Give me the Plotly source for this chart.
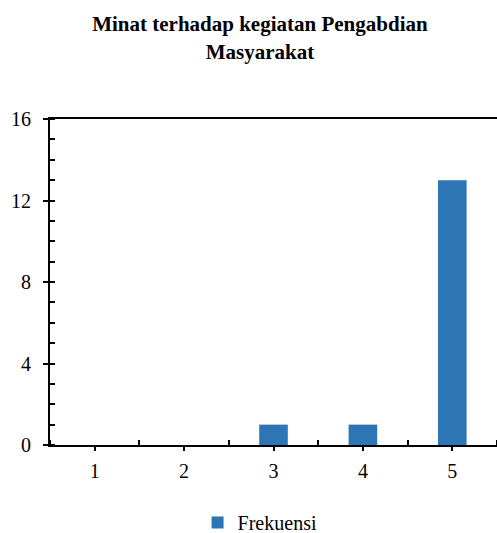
import plotly.graph_objects as go

# Data
categories = [1, 2, 3, 4, 5]
category_labels = ["1", "2", "3", "4", "5"]
frekuensi = [0, 0, 1, 1, 13]
y_ticks = [0, 4, 8, 12, 16]

BAR_COLOR = "#2E75B6"
FONT = "Liberation Serif"

fig = go.Figure()

fig.add_trace(
    go.Bar(
        x=categories,
        y=frekuensi,
        name="Frekuensi",
        marker=dict(color=BAR_COLOR, line=dict(width=0)),
        width=0.32,
        showlegend=True,
    )
)

fig.update_layout(
    width=497,
    height=533,
    margin=dict(l=50, r=0, t=119, b=88, autoexpand=False),
    paper_bgcolor="white",
    plot_bgcolor="white",
    font=dict(family=FONT, color="black"),
    title=dict(
        text="<b>Minat terhadap kegiatan Pengabdian<br>Masyarakat</b>",
        x=0.523,
        xanchor="center",
        y=0.941,
        yanchor="middle",
        font=dict(size=21, family=FONT, color="black"),
    ),
    showlegend=True,
    legend=dict(
        orientation="h",
        x=0.47,
        xanchor="center",
        y=-0.238,
        yanchor="middle",
        font=dict(size=20, family=FONT),
        itemwidth=30,
    ),
    xaxis=dict(
        range=[0.5, 5.5],
        automargin=False,
        tickmode="array",
        tickvals=categories,
        ticktext=category_labels,
        ticks="outside",
        ticklen=4,
        tickwidth=1.5,
        tickcolor="black",
        showline=True,
        linecolor="black",
        linewidth=2,
        mirror=True,
        showgrid=False,
        zeroline=False,
        ticklabelstandoff=3,
        tickfont=dict(size=20, family=FONT),
        minor=dict(
            tickmode="linear",
            tick0=0.5,
            dtick=1,
            ticks="inside",
            ticklen=5,
            tickwidth=1.5,
            tickcolor="black",
            showgrid=False,
        ),
    ),
    yaxis=dict(
        range=[0, 16],
        automargin=False,
        tickmode="array",
        tickvals=y_ticks,
        ticks="outside",
        ticklen=5,
        tickwidth=1.5,
        tickcolor="black",
        showline=True,
        linecolor="black",
        linewidth=2,
        showgrid=False,
        zeroline=False,
        ticklabelstandoff=8,
        tickfont=dict(size=20, family=FONT),
        minor=dict(
            tickmode="linear",
            tick0=0,
            dtick=1,
            ticks="inside",
            ticklen=5,
            tickwidth=1.5,
            tickcolor="black",
            showgrid=False,
        ),
    ),
    yaxis2=dict(
        range=[0, 16],
        automargin=False,
        overlaying="y",
        side="left",
        tickmode="array",
        tickvals=y_ticks,
        ticks="inside",
        ticklen=5,
        tickwidth=1.5,
        tickcolor="black",
        showticklabels=False,
        showline=False,
        showgrid=False,
        zeroline=False,
    ),
)

# drop the default page margin so the figure sits at the window's top-left
fig.write_html(
    "out.html",
    config=dict(displayModeBar=False),
    post_script="document.body.style.margin='0';document.body.style.overflow='hidden';",
)
